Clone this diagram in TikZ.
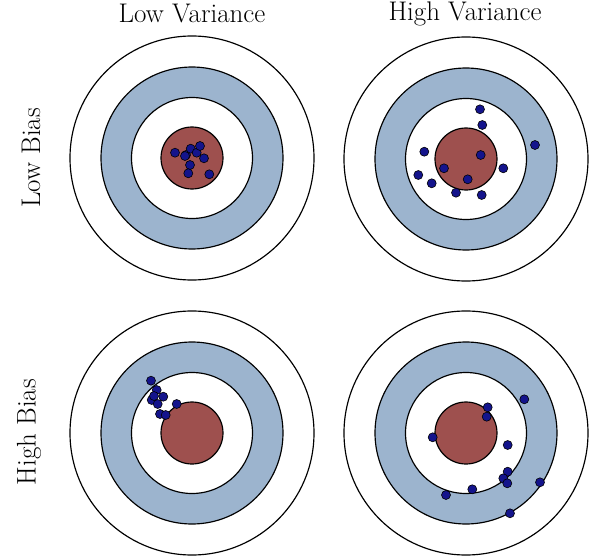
\documentclass[tikz,border=0pt]{standalone}
\definecolor{ringblue}{RGB}{156,180,206}
\definecolor{bullred}{RGB}{158,80,78}
\definecolor{shotblue}{RGB}{20,20,140}
\begin{document}
\begin{tikzpicture}[x=0.03cm, y=-0.03cm,
	ring/.style={draw=black, line width=1pt},
	shot/.style={fill=shotblue, draw=black, line width=0.5pt},
	headlabel/.style={anchor=center, inner sep=0pt, font=\fontsize{23}{27}\selectfont}]
	\useasboundingbox (0,0) rectangle (602,558);
	% Targets:
	\foreach \tx/\ty in {192/158, 466/159, 192/433, 466/433}{
		\draw[ring, fill=white] (\tx,\ty) circle[radius=122];
		\draw[ring, fill=ringblue] (\tx,\ty) circle[radius=91];
		\draw[ring, fill=white] (\tx,\ty) circle[radius=60.5];
		\draw[ring, fill=bullred] (\tx,\ty) circle[radius=31];
	}
	% Shots, low bias / low variance:
	\foreach \sx/\sy in {175/152.7, 186/155, 190.7/148.7, 196.7/152.7, 200/146, 204/158.3, 190/165, 188.3/173.3, 209.3/174.3, 185/156}
		\filldraw[shot] (\sx,\sy) circle[radius=4.5];
	% Shots, low bias / high variance:
	\foreach \sx/\sy in {480/109.3, 482.3/125, 535/145, 424.3/151.7, 480.7/155, 444/168.3, 503.3/168.3, 418.3/175, 431.7/183.3, 467.7/179.3, 456/192.7, 481.7/195}
		\filldraw[shot] (\sx,\sy) circle[radius=4.5];
	% Shots, high bias / low variance:
	\foreach \sx/\sy in {151/380.7, 156.7/390, 163.3/396.7, 151.7/400, 157.7/404, 176.7/404, 160/414, 165.7/415, 154/396}
		\filldraw[shot] (\sx,\sy) circle[radius=4.5];
	% Shots, high bias / high variance:
	\foreach \sx/\sy in {524.3/399.3, 487.7/407.3, 486.7/416.7, 432.7/437.3, 507.7/445, 507.7/471.7, 503.3/478.3, 507.3/483.3, 540/482.3, 472.3/489.3, 446/495, 510/513.3}
		\filldraw[shot] (\sx,\sy) circle[radius=4.5];
	% Labels:
	\node[headlabel] (lowvar) at (192,13.5){Low Variance};
	\node[headlabel] (highvar) at (465,13.5){High Variance};
	\node[headlabel, rotate=90] (lowbias) at (31,158){Low Bias};
	\node[headlabel, rotate=90] (highbias) at (29,432){High Bias};
\end{tikzpicture}
\end{document}
